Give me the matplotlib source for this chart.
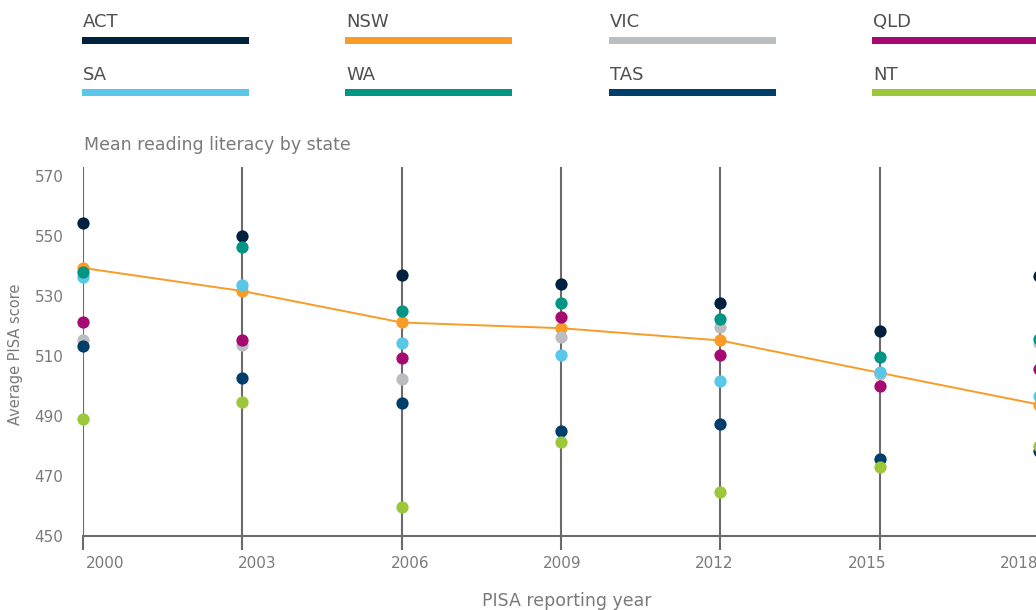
import matplotlib
matplotlib.use("Agg")
import matplotlib.pyplot as plt
from matplotlib.patches import Rectangle
import matplotlib.transforms as mtrans

plt.rcParams['font.family'] = ['DejaVu Sans']

years = [2000, 2003, 2006, 2009, 2012, 2015, 2018]
states = ["ACT", "NSW", "VIC", "QLD", "SA", "WA", "TAS", "NT"]
colors = ["#00223F", "#F89C27", "#BBBEC1", "#A50A71",
          "#59C8E8", "#009584", "#003F6B", "#9DC73B"]

act = [554.4, 550.0, 537.1, 533.9, 527.6, 518.3, 536.5]
nsw = [539.3, 531.6, 521.1, 519.2, 515.1, 504.3, 493.7]
vic = [515.2, 513.5, 502.3, 516.1, 519.6, 504.0, 514.1]
qld = [521.3, 515.4, 509.3, 522.9, 510.3, 499.9, 505.7]
sa = [536.4, 533.7, 514.4, 510.4, 501.7, 504.5, 496.6]
wa = [537.8, 546.2, 524.9, 527.7, 522.1, 509.7, 515.5]
tas = [513.4, 502.6, 494.3, 484.9, 487.1, 475.5, 478.1]
nt = [488.9, 494.4, 459.6, 481.2, 464.4, 472.7, 479.9]
series = [act, nsw, vic, qld, sa, wa, tas, nt]

yticks = [450, 470, 490, 510, 530, 550, 570]

W, H = 1036, 610
fig = plt.figure(figsize=(W / 100, H / 100), dpi=100)

left, right = 83, 1055
bottom, top = 535.5, 167.3
ax = fig.add_axes([left / W, 1 - bottom / H, (right - left) / W, (bottom - top) / H])
ax.set_xlim(2000, 2018.3)
ax.set_ylim(450, 572.9)

grid_col = "#6B6B6B"
txt_col = "#7A7A7A"
for sp in ["top", "right", "left"]:
    ax.spines[sp].set_visible(False)
ax.spines["bottom"].set_color(grid_col)
ax.spines["bottom"].set_linewidth(1.5)

ax.set_xticks(years)
ax.xaxis.grid(True, color=grid_col, linewidth=1.5, zorder=0)
ax.tick_params(axis="x", length=10, width=1.5, color=grid_col, labelbottom=False)
ax.set_yticks(yticks)
ax.set_yticklabels([str(v) for v in yticks])
ax.tick_params(axis="y", length=0, pad=14, labelsize=11, labelcolor=txt_col)
ax.set_axisbelow(True)

# x tick labels (evenly spaced category-style positions)
xtrans = mtrans.blended_transform_factory(ax.transData, ax.transAxes)
for k, yr in enumerate(years):
    off = (22 - k * 7.0) / 100.0
    t = xtrans + mtrans.ScaledTranslation(off, 0, fig.dpi_scale_trans)
    ax.text(yr, -0.075, str(yr), transform=t, ha="center", va="center",
            fontsize=11, color=txt_col, clip_on=False)

# NSW trend line
ax.plot(years, nsw, color=colors[1], linewidth=1.4, zorder=2, clip_on=False)

for vals, col in zip(series, colors):
    ax.scatter(years, vals, s=78, color=col, zorder=3, linewidths=0, clip_on=False)

fig.text(16 / W, 1 - 354 / H, "Average PISA score", rotation=90, ha="center",
         va="center", fontsize=10.5, color=txt_col)
fig.text(567 / W, 1 - 601 / H, "PISA reporting year", ha="center", va="center",
         fontsize=12.5, color=txt_col)
fig.text(84 / W, 1 - 145 / H, "Mean reading literacy by state", ha="left",
         va="center", fontsize=12.5, color=txt_col)

# custom legend
col_x = [82, 345, 609, 872]
row_label_y = [22, 75]
row_bar_y = [40.5, 92.5]
bar_w, bar_h = 167, 7.5
for i, (name, col) in enumerate(zip(states, colors)):
    r, c = divmod(i, 4)
    x0 = col_x[c]
    fig.text((x0 + 1) / W, 1 - row_label_y[r] / H, name, ha="left", va="center",
             fontsize=13, color="#505050")
    fig.add_artist(Rectangle((x0 / W, 1 - (row_bar_y[r] + bar_h / 2) / H),
                             bar_w / W, bar_h / H, transform=fig.transFigure,
                             facecolor=col, edgecolor="none"))

fig.savefig("out.png", dpi=100)
